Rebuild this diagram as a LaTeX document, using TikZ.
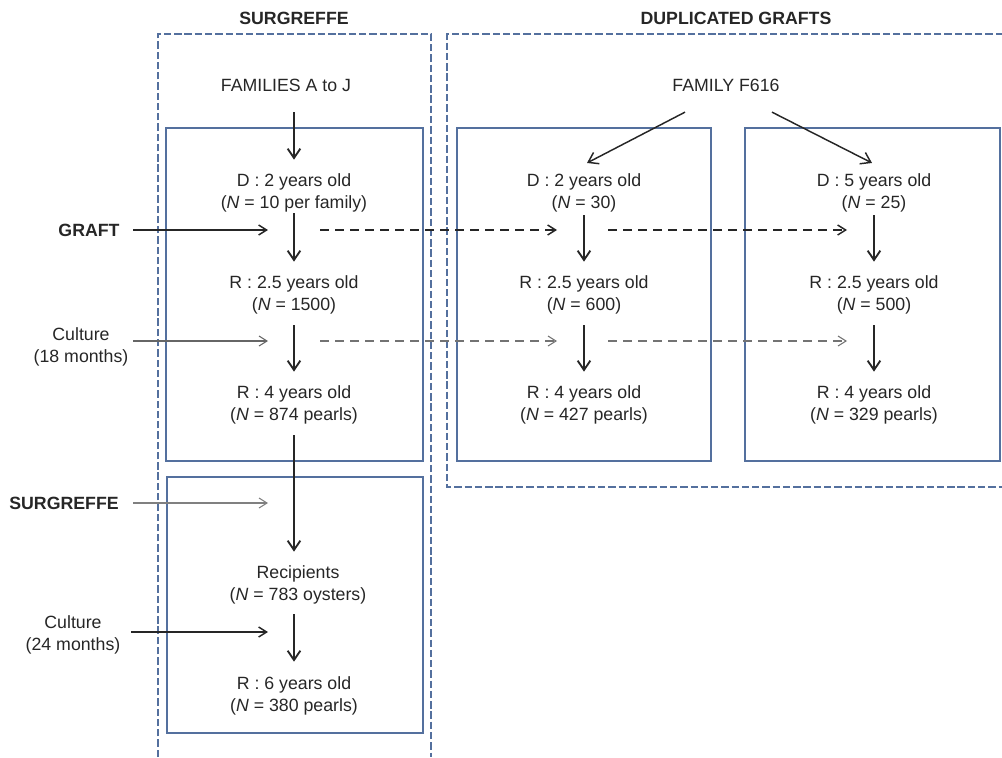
\documentclass[tikz,border=0pt]{standalone}
\usepackage{fontspec}
\setmainfont{Liberation Sans}
\usetikzlibrary{arrows.meta, calc}
\definecolor{frameBlue}{RGB}{84,112,158}
\tikzset{
    font=\fontsize{13.3}{16.5}\selectfont,
    >={Straight Barb[length=7pt, width=9.5pt]},
    % Frames
    frame/.style={draw=frameBlue, line width=1.2pt},
    group/.style={draw=frameBlue, line width=1pt, dash pattern=on 5.5pt off 2.2pt},
    % Texts
    lbl/.style={inner sep=0pt, align=center, text=black!85},
    head/.style={lbl, font=\fontsize{13.3}{16.5}\selectfont\bfseries},
    % Flow
    vflow/.style={->, line width=1.4pt, black!85, shorten >=10pt, shorten <=8.4pt},
    fan/.style={->, line width=1.1pt, black!85},
    hflow/.style={-{Straight Barb[length=6pt, width=7.5pt]}, line width=1.1pt, black!85},
    hflowLight/.style={hflow, line width=0.8pt, black!60},
    link/.style={hflow, dash pattern=on 6.75pt off 4.5pt},
    linkLight/.style={link, line width=0.8pt, black!55}
}

\begin{document}
\begin{tikzpicture}[x=0.75pt, y=-0.75pt]
\useasboundingbox (0,0) rectangle (1002,757);

% frames
\draw[frame] (166,128) rectangle (423,461);
\draw[frame] (167,477) rectangle (423,733);
\draw[frame] (457,128) rectangle (711,461);
\draw[frame] (745,128) rectangle (1000,461);
\draw[group] (158,757) -- (158,34) -- (431,34) -- (431,757);
\draw[group] (1003,34) -- (447,34) -- (447,487) -- (1003,487);

% headers and sources
\node[head] (surgHead) at (294,18) {SURGREFFE};
\node[head] (dupHead) at (736,18) {DUPLICATED GRAFTS};
\node[lbl] (famAJ) at (286,85.6) {FAMILIES A to J};
\node[lbl] (f616) at (726,85.6) {FAMILY F616};

% surgreffe column
\node[lbl] (d2a) at (294,192.5) {D : 2 years old\\(\textit{N} = 10 per family)};
\node[lbl] (r25a) at (294,294.5) {R : 2.5 years old\\(\textit{N} = 1500)};
\node[lbl] (r4a) at (294,404.5) {R : 4 years old\\(\textit{N} = 874 pearls)};
\node[lbl] (recip) at (298,584.5) {Recipients\\(\textit{N} = 783 oysters)};
\node[lbl] (r6a) at (294,695.5) {R : 6 years old\\(\textit{N} = 380 pearls)};

% duplicated grafts columns
\node[lbl] (d2b) at (584,192.5) {D : 2 years old\\(\textit{N} = 30)};
\node[lbl] (r25b) at (584,294.5) {R : 2.5 years old\\(\textit{N} = 600)};
\node[lbl] (r4b) at (584,404.5) {R : 4 years old\\(\textit{N} = 427 pearls)};
\node[lbl] (d5c) at (874,192.5) {D : 5 years old\\(\textit{N} = 25)};
\node[lbl] (r25c) at (874,294.5) {R : 2.5 years old\\(\textit{N} = 500)};
\node[lbl] (r4c) at (874,404.5) {R : 4 years old\\(\textit{N} = 329 pearls)};

% side labels
\node[head] (graftLbl) at (89,230.6) {GRAFT};
\node[lbl] (cult18) at (81,346.5) {Culture\\(18 months)};
\node[head] (surgLbl) at (64,503.6) {SURGREFFE};
\node[lbl] (cult24) at (73,634.5) {Culture\\(24 months)};

\coordinate (graftTip) at (268,230);
\coordinate (cult18Tip) at (268,341);
\coordinate (surgTip) at (268,503);
\coordinate (cult24Tip) at (268,632);
\coordinate (gA) at (320,230); \coordinate (gB) at (557,230);
\coordinate (gC) at (608,230); \coordinate (gD) at (847,230);
\coordinate (cA) at (320,341); \coordinate (cB) at (557,341);
\coordinate (cC) at (608,341); \coordinate (cD) at (847,341);

% vertical flow
\draw[vflow, shorten <=15pt] (d2a.north |- famAJ.south) -- (d2a.north);
\draw[vflow, shorten <=1pt] (d2a.south) -- (d2a.south |- r25a.north);
\draw[vflow] (r25a.south) -- (r25a.south |- r4a.north);
\draw[vflow] (r4a.south) -- (r4a.south |- recip.north);
\draw[vflow, shorten <=7.7pt, shorten >=10.7pt] (r6a.north |- recip.south) -- (r6a.north);
\draw[vflow, shorten <=2.4pt] (d2b.south) -- (d2b.south |- r25b.north);
\draw[vflow] (r25b.south) -- (r25b.south |- r4b.north);
\draw[vflow, shorten <=2.4pt] (d5c.south) -- (d5c.south |- r25c.north);
\draw[vflow] (r25c.south) -- (r25c.south |- r4c.north);
\draw[fan] ($(f616.south)+(-41,20)$) -- ($(d2b.north)+(3,-10)$);
\draw[fan] ($(f616.south)+(46,20)$) -- ($(d5c.north)+(-2,-10)$);

% steps
\draw[hflow, shorten <=10pt] (graftLbl.east |- graftTip) -- (graftTip);
\draw[hflowLight, shorten <=3.5pt] (cult18.east |- cult18Tip) -- (cult18Tip);
\draw[hflowLight, black!50, shorten <=10.7pt] (surgLbl.east |- surgTip) -- (surgTip);
\draw[hflow, shorten <=8pt] (cult24.east |- cult24Tip) -- (cult24Tip);
\draw[link] (gA) -- (gB);
\draw[link] (gC) -- (gD);
\draw[linkLight] (cA) -- (cB);
\draw[linkLight] (cC) -- (cD);

\end{tikzpicture}
\end{document}
